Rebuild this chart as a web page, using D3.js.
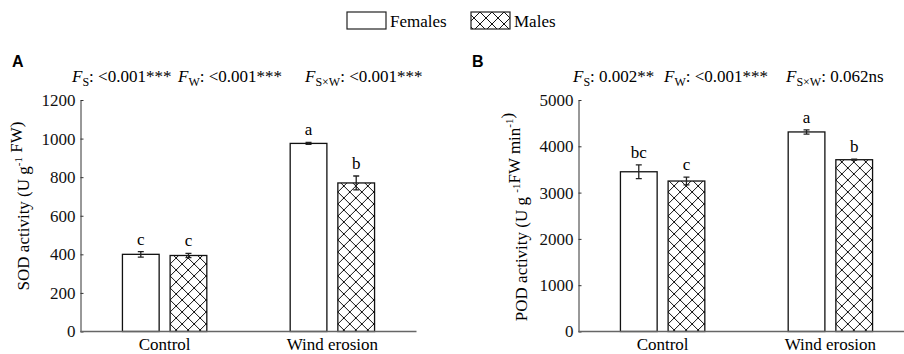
<!DOCTYPE html>
<html>
<head>
<meta charset="utf-8">
<script src="https://cdn.jsdelivr.net/npm/d3@7"></script>
<style>
  body { margin: 0; background: #fff; }
  svg { display: block; font-family: "Liberation Serif", "Times New Roman", serif; }
</style>
</head>
<body>
<div id="chart"></div>
<script>
// data
var categories = ["Control", "Wind erosion"]
var sexes = ["Females", "Males"]

var sodFemales = [400, 975]
var sodMales = [394, 770]
var sodFemalesErr = [14, 5]
var sodMalesErr = [11, 36]
var sodFemalesLetters = ["c", "a"]
var sodMalesLetters = ["c", "b"]
var sodTicks = [0, 200, 400, 600, 800, 1000, 1200]

var podFemales = [3450, 4310]
var podMales = [3250, 3710]
var podFemalesErr = [150, 45]
var podMalesErr = [85, 10]
var podFemalesLetters = ["bc", "a"]
var podMalesLetters = ["c", "b"]
var podTicks = [0, 1000, 2000, 3000, 4000, 5000]

var sodStats = [["S", ": <0.001***"], ["W", ": <0.001***"], ["S×W", ": <0.001***"]]
var podStats = [["S", ": 0.002**"], ["W", ": <0.001***"], ["S×W", ": 0.062ns"]]

var W = 904, H = 354

var svg = d3.select("#chart").append("svg")
  .attr("width", W).attr("height", H)

// cross hatch for males
var pat = svg.append("defs").append("pattern")
  .attr("id", "hatch")
  .attr("patternUnits", "userSpaceOnUse")
  .attr("width", 12).attr("height", 12)
pat.append("rect").attr("width", 12).attr("height", 12).attr("fill", "#fff")
pat.append("path")
  .attr("d", "M0,0L12,12M12,0L0,12M-6,6L0,12M6,-6L18,6M-6,6L6,-6M6,18L18,6")
  .attr("stroke", "#111").attr("stroke-width", 1)

// legend
var legend = svg.append("g")
legend.append("rect").attr("x", 347).attr("y", 12).attr("width", 39).attr("height", 17)
  .attr("fill", "#fff").attr("stroke", "#222").attr("stroke-width", 1.2)
legend.append("text").attr("x", 390).attr("y", 27).attr("font-size", 17).text(sexes[0])
legend.append("rect").attr("x", 471).attr("y", 12).attr("width", 39).attr("height", 17)
  .attr("fill", "url(#hatch)").attr("stroke", "#222").attr("stroke-width", 1.2)
legend.append("text").attr("x", 514).attr("y", 27).attr("font-size", 17).text(sexes[1])

function drawPanel(opt) {
  var g = svg.append("g")

  var y = d3.scaleLinear().domain(opt.domain).range([331.5, 100])
  var x = d3.scaleBand().domain(categories)
    .range([opt.left, opt.left + 336]).paddingInner(0.497).paddingOuter(0.25)
  var xs = d3.scaleBand().domain(sexes).range([0, x.bandwidth()]).paddingInner(0.23)

  // panel letter
  g.append("text").attr("x", opt.letterX).attr("y", 67)
    .attr("font-family", "Liberation Sans, Arial, sans-serif")
    .attr("font-weight", "bold").attr("font-size", 16).text(opt.letter)

  // F statistics
  opt.stats.forEach(function(s, i) {
    var t = g.append("text").attr("x", opt.statX[i]).attr("y", 82).attr("font-size", 17)
    t.append("tspan").attr("font-style", "italic").text("F")
    t.append("tspan").attr("font-size", 12).attr("dy", 4).text(s[0])
    t.append("tspan").attr("dy", -4).text(s[1])
  })

  // y axis
  var yAxis = g.append("g")
    .attr("transform", "translate(" + opt.left + ",0)")
    .call(d3.axisLeft(y).tickValues(opt.ticks).tickFormat(d3.format("d"))
      .tickSizeInner(-3).tickSizeOuter(0).tickPadding(5))
  yAxis.attr("font-family", null)
  yAxis.select(".domain").attr("stroke", "#333")
  yAxis.selectAll(".tick line").attr("stroke", "#333")
  yAxis.selectAll("text").attr("font-size", 17).attr("fill", "#111")

  // y label
  var lab = g.append("text")
    .attr("transform", "translate(" + opt.labX + "," + opt.labY + ") rotate(-90)")
    .attr("text-anchor", "middle").attr("font-size", 17)
  opt.label.forEach(function(p) {
    if (p.sup) {
      lab.append("tspan").attr("font-size", 11).attr("dy", -7).text(p.t)
      lab.append("tspan").attr("dy", 7).text("")
    } else {
      lab.append("tspan").text(p.t)
    }
  })

  // bars
  var rows = categories.map(function(c, i) {
    return [
      { cat: c, sex: sexes[0], v: opt.females[i], e: opt.femalesErr[i], l: opt.femalesLetters[i] },
      { cat: c, sex: sexes[1], v: opt.males[i], e: opt.malesErr[i], l: opt.malesLetters[i] }
    ]
  })
  var flat = d3.merge(rows)

  var bars = g.selectAll(".bar").data(flat).enter().append("g")
    .attr("transform", function(d) { return "translate(" + (x(d.cat) + xs(d.sex)) + ",0)" })

  bars.append("rect")
    .attr("x", 0).attr("width", xs.bandwidth())
    .attr("y", function(d) { return y(d.v) })
    .attr("height", function(d) { return y(0) - y(d.v) })
    .attr("fill", function(d) { return d.sex === "Males" ? "url(#hatch)" : "#fff" })
    .attr("stroke", "#111").attr("stroke-width", 1.3)

  var cx = xs.bandwidth() / 2
  bars.append("path")
    .attr("d", function(d) {
      var t = y(d.v + d.e), b = y(d.v - d.e)
      return "M" + cx + "," + t + "V" + b + "M" + (cx - 3) + "," + t + "H" + (cx + 3) +
        "M" + (cx - 3) + "," + b + "H" + (cx + 3)
    })
    .attr("stroke", "#222").attr("stroke-width", 1.3).attr("fill", "none")

  bars.append("text")
    .attr("x", cx).attr("y", function(d) { return y(d.v + d.e) - 7 })
    .attr("text-anchor", "middle").attr("font-size", 17)
    .text(function(d) { return d.l })

  // x axis
  g.append("line")
    .attr("x1", opt.left).attr("x2", opt.left + 336)
    .attr("y1", y(0)).attr("y2", y(0))
    .attr("stroke", "#666").attr("stroke-width", 1.6)

  g.selectAll(".cat").data(categories).enter().append("text")
    .attr("x", function(d) { return x(d) + x.bandwidth() / 2 })
    .attr("y", 350).attr("text-anchor", "middle").attr("font-size", 17)
    .text(function(d) { return d })
}

drawPanel({
  left: 80.5, domain: [0, 1200], ticks: sodTicks,
  females: sodFemales, males: sodMales, femalesErr: sodFemalesErr, malesErr: sodMalesErr,
  femalesLetters: sodFemalesLetters, malesLetters: sodMalesLetters,
  letter: "A", letterX: 12, stats: sodStats, statX: [72, 178, 305],
  labX: 29, labY: 206,
  label: [{ t: "SOD activity (U g" }, { t: "-1", sup: true }, { t: " FW)" }]
})

drawPanel({
  left: 578.5, domain: [0, 5000], ticks: podTicks,
  females: podFemales, males: podMales, femalesErr: podFemalesErr, malesErr: podMalesErr,
  femalesLetters: podFemalesLetters, malesLetters: podMalesLetters,
  letter: "B", letterX: 472, stats: podStats, statX: [573, 664, 786],
  labX: 527, labY: 217,
  label: [{ t: "POD activity (U g " }, { t: "-1", sup: true }, { t: "FW min" }, { t: "-1", sup: true }, { t: ")" }]
})
</script>
</body>
</html>
